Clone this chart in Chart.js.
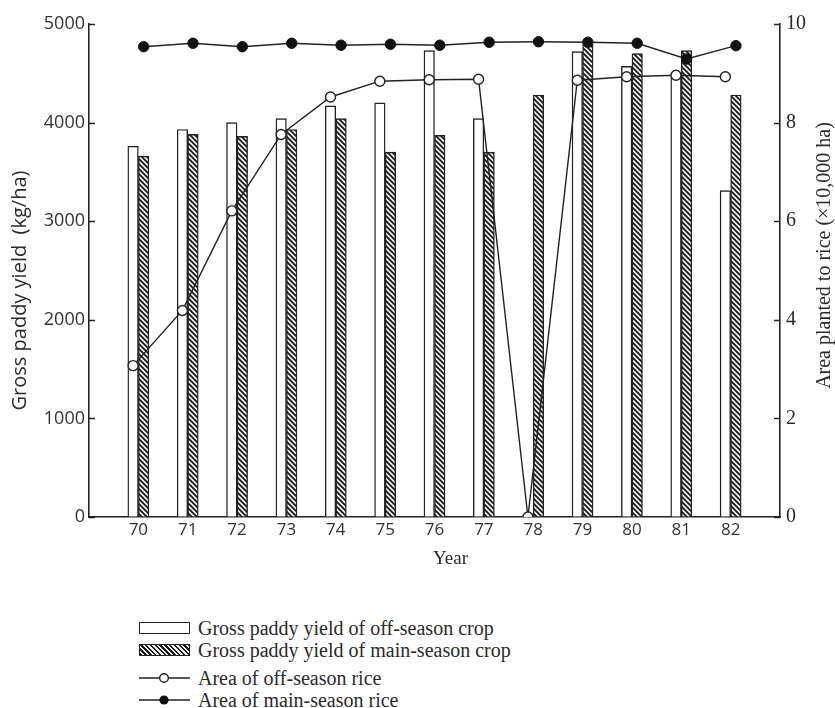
<!DOCTYPE html>
<html>
<head>
<meta charset="utf-8">
<title>Paddy yield and area planted to rice</title>
<script src="https://cdn.jsdelivr.net/npm/chart.js@4.4.1/dist/chart.umd.min.js"></script>
<style>
  html, body { margin: 0; padding: 0; background: #fff; }
  #wrap { position: relative; width: 835px; height: 708px; overflow: hidden; }
  #chartBox { position: absolute; left: 0; top: 0; width: 835px; height: 590px; }
  #legend { position: absolute; left: 139px; top: 617px; font-family: "Liberation Serif", serif; font-size: 20px; color: #2a2a2a; line-height: 22px; }
  .row { display: flex; align-items: center; height: 22px; }
  .row.gap { margin-top: 6px; }
  .sym { width: 51px; height: 12px; margin-right: 8px; box-sizing: border-box; flex: none; }
  .box-off { border: 1.6px solid #222; background: #fff; }
  .box-main { border: 1.6px solid #222; background: repeating-linear-gradient(45deg, #1a1a1a 0 1.7px, #f0f0f0 1.7px 3.4px); }
</style>
</head>
<body>
<div id="wrap">
  <div id="chartBox"><canvas id="riceChart"></canvas></div>
  <div id="legend">
    <div class="row"><div class="sym box-off"></div><span>Gross paddy yield of off-season crop</span></div>
    <div class="row"><div class="sym box-main"></div><span>Gross paddy yield of main-season crop</span></div>
    <div class="row gap"><svg class="sym" width="51" height="12"><line x1="0" y1="6" x2="51" y2="6" stroke="#222" stroke-width="1.6"/><circle cx="25" cy="6" r="4.3" fill="#fff" stroke="#222" stroke-width="1.4"/></svg><span>Area of off-season rice</span></div>
    <div class="row"><svg class="sym" width="51" height="12"><line x1="0" y1="6" x2="51" y2="6" stroke="#222" stroke-width="1.6"/><circle cx="25" cy="6" r="4.6" fill="#111"/></svg><span>Area of main-season rice</span></div>
  </div>
</div>
<script>
const years = ['70', '71', '72', '73', '74', '75', '76', '77', '78', '79', '80', '81', '82'];

// gross paddy yield, kg/ha (left axis)
const yieldOffSeason = [3760, 3930, 4000, 4040, 4170, 4200, 4730, 4040, 0, 4720, 4570, 4460, 3310];
const yieldMainSeason = [3660, 3880, 3860, 3930, 4040, 3700, 3870, 3700, 4280, 4790, 4700, 4730, 4280];

// area planted, x10,000 ha (right axis)
const areaOffSeason = [3.07, 4.19, 6.21, 7.76, 8.52, 8.84, 8.87, 8.88, 0, 8.86, 8.93, 8.96, 8.93];
const areaMainSeason = [9.54, 9.61, 9.54, 9.61, 9.57, 9.59, 9.57, 9.63, 9.64, 9.63, 9.61, 9.29, 9.56];

const yieldTicks = [0, 1000, 2000, 3000, 4000, 5000];
const areaTicks = [0, 2, 4, 6, 8, 10];

// the year axis keeps one empty year at each end, like the original
const firstYear = +years[0] - 1;
const lastYear = +years[years.length - 1] + 1;
// off-season sits left of the year, main-season right; markers sit over their own bar
const shift = 0.107;
const atYears = (arr, dx) => years.map((yr, i) => ({ x: +yr + dx, y: arr[i] }));

function makeHatch() {
  const c = document.createElement('canvas');
  c.width = 5; c.height = 5;
  const g = c.getContext('2d');
  g.fillStyle = '#f0f0f0';
  g.fillRect(0, 0, 5, 5);
  g.strokeStyle = '#1a1a1a';
  g.lineWidth = 1.8;
  g.beginPath();
  g.moveTo(-1, -1); g.lineTo(6, 6);
  g.moveTo(4, -1); g.lineTo(6, 1);
  g.moveTo(-1, 4); g.lineTo(1, 6);
  g.stroke();
  return g.createPattern(c, 'repeat');
}

const ink = '#222';
const sans = '"Open Sans", "DejaVu Sans", sans-serif';
const serif = '"Liberation Serif", "DejaVu Serif", serif';

// inward tick marks and the axis titles, placed as in the original
const axisExtras = {
  id: 'axisExtras',
  afterDraw(chart) {
    const { ctx, chartArea } = chart;
    const y = chart.scales.y, y2 = chart.scales.y2;
    ctx.save();
    ctx.strokeStyle = ink;
    ctx.lineWidth = 1.4;
    ctx.beginPath();
    yieldTicks.forEach(v => {
      const py = Math.round(y.getPixelForValue(v)) + 0.5;
      ctx.moveTo(chartArea.left, py); ctx.lineTo(chartArea.left + 6, py);
    });
    areaTicks.forEach(v => {
      const py = Math.round(y2.getPixelForValue(v)) + 0.5;
      ctx.moveTo(chartArea.right, py); ctx.lineTo(chartArea.right - 6, py);
    });
    ctx.stroke();

    ctx.fillStyle = '#2a2a2a';
    ctx.textAlign = 'center';
    ctx.textBaseline = 'middle';

    ctx.save();
    ctx.translate(20, (chartArea.top + chartArea.bottom) / 2 + 20);
    ctx.rotate(-Math.PI / 2);
    ctx.font = '20px ' + sans;
    ctx.fillText('Gross paddy yield  (kg/ha)', 0, 0);
    ctx.restore();

    ctx.save();
    ctx.translate(y2.right - 10, (chartArea.top + chartArea.bottom) / 2 - 15);
    ctx.rotate(-Math.PI / 2);
    ctx.font = '20px ' + serif;
    ctx.fillText('Area planted to rice (\u00d710,000 ha)', 0, 0);
    ctx.restore();

    ctx.font = '19px ' + serif;
    ctx.fillText('Year', (chartArea.left + chartArea.right) / 2 + 16, chartArea.bottom + 42);
    ctx.restore();
  }
};

new Chart(document.getElementById('riceChart'), {
  type: 'bar',
  data: {
    datasets: [
      {
        label: 'Gross paddy yield of off-season crop',
        data: atYears(yieldOffSeason, -shift),
        backgroundColor: '#fff',
        borderColor: ink,
        borderWidth: 1.4,
        barThickness: 10.5,
        grouped: false,
        yAxisID: 'y',
        order: 2
      },
      {
        label: 'Gross paddy yield of main-season crop',
        data: atYears(yieldMainSeason, shift),
        backgroundColor: makeHatch(),
        borderColor: ink,
        borderWidth: 1.4,
        barThickness: 10.5,
        grouped: false,
        yAxisID: 'y',
        order: 3
      },
      {
        type: 'line',
        label: 'Area of off-season rice',
        data: atYears(areaOffSeason, -shift),
        borderColor: ink,
        borderWidth: 1.4,
        pointRadius: 5,
        pointBorderWidth: 1.4,
        pointBackgroundColor: '#fff',
        pointBorderColor: ink,
        tension: 0,
        yAxisID: 'y2',
        order: 1
      },
      {
        type: 'line',
        label: 'Area of main-season rice',
        data: atYears(areaMainSeason, shift),
        borderColor: ink,
        borderWidth: 1.4,
        pointRadius: 5.2,
        pointBorderWidth: 1,
        pointBackgroundColor: '#111',
        pointBorderColor: '#111',
        tension: 0,
        yAxisID: 'y2',
        order: 0
      }
    ]
  },
  options: {
    responsive: true,
    maintainAspectRatio: false,
    animation: false,
    layout: { padding: { top: 24, left: 0, right: 0, bottom: 13 } },
    plugins: {
      legend: { display: false },
      tooltip: { enabled: true }
    },
    scales: {
      x: {
        type: 'linear',
        position: 'bottom',
        min: firstYear,
        max: lastYear,
        offset: false,
        afterBuildTicks: s => { s.ticks = years.map(v => ({ value: +v })); },
        grid: { display: false, drawTicks: false, offset: false },
        border: { display: true, color: ink, width: 1.6 },
        ticks: { color: '#333', font: { family: sans, size: 17 }, padding: 3, autoSkip: false, maxRotation: 0, callback: v => String(v) },
        afterFit: s => { s.height = 60; }
      },
      y: {
        position: 'left',
        min: 0,
        max: 5000,
        afterBuildTicks: s => { s.ticks = yieldTicks.map(v => ({ value: v })); },
        grid: { drawOnChartArea: false, drawTicks: false },
        border: { display: true, color: ink, width: 1.6 },
        ticks: { color: '#333', font: { family: sans, size: 18 }, padding: 4, callback: v => String(v) },
        afterFit: s => { s.width = 89; }
      },
      y2: {
        position: 'right',
        min: 0,
        max: 10,
        afterBuildTicks: s => { s.ticks = areaTicks.map(v => ({ value: v })); },
        grid: { drawOnChartArea: false, drawTicks: false },
        border: { display: true, color: ink, width: 1.6 },
        ticks: { color: '#2a2a2a', font: { family: serif, size: 20 }, padding: 6, callback: v => String(v) },
        afterFit: s => { s.width = 55; }
      }
    }
  },
  plugins: [axisExtras]
});
</script>
</body>
</html>
